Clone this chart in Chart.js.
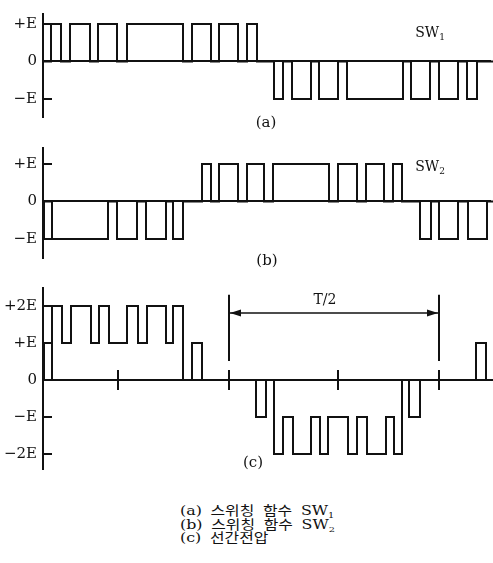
<!DOCTYPE html>
<html>
<head>
<meta charset="utf-8">
<script src="https://cdn.jsdelivr.net/npm/chart.js@4"></script>
<style>
  body { margin: 0; background: #fff; }
  #wrap { position: relative; width: 493px; height: 563px; overflow: hidden; background: #fff; }
  .panel { position: absolute; left: 0; }
  .lbl { position: absolute; font-family: "DejaVu Serif", serif; color: #111; white-space: nowrap;
         transform: translate(-50%, -50%); line-height: 1; }
  .lbl sub { font-size: 9px; vertical-align: -3px; }
  .cap { position: absolute; left: 180px; font-family: "DejaVu Serif", "Noto Sans CJK KR", serif;
         font-size: 13px; line-height: 13px; color: #111; word-spacing: 3px; white-space: nowrap;
         transform: scaleX(1.22); transform-origin: left center; }
  .cap sub { font-size: 8px; vertical-align: -3px; }
</style>
</head>
<body>
<div id="wrap">
  <div class="panel" style="top:13px"><canvas id="chartA" width="493" height="105"></canvas></div>
  <div class="panel" style="top:147px"><canvas id="chartB" width="493" height="112"></canvas></div>
  <div class="panel" style="top:287px"><canvas id="chartC" width="493" height="183"></canvas></div>

  <div class="lbl" style="left:430px;top:33px;font-size:14px">SW<sub>1</sub></div>
  <div class="lbl" style="left:266px;top:122px;font-size:15px">(a)</div>
  <div class="lbl" style="left:430px;top:167px;font-size:14px">SW<sub>2</sub></div>
  <div class="lbl" style="left:267px;top:260px;font-size:15px">(b)</div>
  <div class="lbl" style="left:325px;top:299px;font-size:14px">T/2</div>
  <div class="lbl" style="left:253px;top:462px;font-size:15px">(c)</div>

  <div class="cap" style="top:504px">(a) 스위칭 함수 SW<sub>1</sub></div>
  <div class="cap" style="top:518px">(b) 스위칭 함수 SW<sub>2</sub></div>
  <div class="cap" style="top:531px">(c) 선간전압</div>
</div>
<script>
// time axis (arbitrary units, 0 at the vertical axis)
const tMax = 448;

// (a) switching function SW1: level holds from each edge until the next one
const sw1Edges  = [0, 8, 18, 27, 47, 55, 74, 84, 140, 149, 168, 176, 195, 204, 214,
                   231, 240, 249, 268, 276, 295, 304, 360, 368, 387, 396, 415, 424, 434, 450];
const sw1Levels = [0, 1, 0, 1, 0, 1, 0, 1, 0, 1, 0, 1, 0, 1, 0,
                   -1, 0, -1, 0, -1, 0, -1, 0, -1, 0, -1, 0, -1, 0, 0];

// (b) switching function SW2
const sw2Edges  = [0, 1, 9, 65, 74, 94, 103, 123, 130, 140, 159, 168, 176, 195, 204, 221,
                   230, 286, 295, 314, 323, 341, 350, 359, 377, 388, 396, 415, 425, 444, 450];
const sw2Levels = [-1, 0, -1, 0, -1, 0, -1, 0, -1, 0, 1, 0, 1, 0, 1, 0,
                   1, 0, 1, 0, 1, 0, 1, 0, -1, 0, -1, 0, -1, 0, 0];

// (c) line-to-line voltage
const lineEdges  = [0, 1, 9, 19, 28, 48, 56, 66, 84, 95, 104, 123, 130, 140, 149, 159,
                    213, 223, 231, 240, 250, 268, 277, 285, 305, 314, 324, 343, 351, 359,
                    366, 377, 433, 443, 450];
const lineLevels = [1, 0, 2, 1, 2, 1, 2, 1, 2, 1, 2, 1, 2, 0, 1, 0,
                    -1, 0, -2, -1, -2, -1, -2, -1, -2, -1, -2, -1, -2, 0,
                    -1, 0, 1, 0, 0];

// y tick values and their labels
const swTicks = [-1, 0, 1];
const swTickLabels = ['−E', '0', '+E'];
const lineTicks = [-2, -1, 0, 1, 2];
const lineTickLabels = ['−2E', '−E', '0', '+E', '+2E'];

// marks on the zero line of (c) and the half period span
const zeroTicks = [75, 186, 295, 396];
const halfPeriod = [186, 396];

const ink = '#111';

const axisMarks = {
  id: 'axisMarks',
  afterDatasetsDraw(chart, args, opts) {
    const { ctx, chartArea } = chart;
    const xs = chart.scales.x, ys = chart.scales.y;
    ctx.save();
    ctx.strokeStyle = ink;
    ctx.fillStyle = ink;
    ctx.lineWidth = 2;
    (opts.levels || []).forEach(v => {
      if (v === 0) return;
      const py = Math.round(ys.getPixelForValue(v));
      ctx.beginPath();
      ctx.moveTo(chartArea.left, py);
      ctx.lineTo(chartArea.left + 9, py);
      ctx.stroke();
    });
    const y0 = ys.getPixelForValue(0);
    (opts.zeroTicks || []).forEach(v => {
      const px = Math.round(xs.getPixelForValue(v));
      ctx.beginPath();
      ctx.moveTo(px, y0 - 10);
      ctx.lineTo(px, y0 + 10);
      ctx.stroke();
    });
    if (opts.span) {
      const a = Math.round(xs.getPixelForValue(opts.span[0]));
      const b = Math.round(xs.getPixelForValue(opts.span[1]));
      const top = ys.getPixelForValue(opts.spanTop);
      const bot = ys.getPixelForValue(opts.spanBottom);
      const ay = Math.round(ys.getPixelForValue(opts.arrowY));
      ctx.beginPath();
      ctx.moveTo(a, top); ctx.lineTo(a, bot);
      ctx.moveTo(b, top); ctx.lineTo(b, bot);
      ctx.stroke();
      ctx.lineWidth = 1.5;
      ctx.beginPath();
      ctx.moveTo(a, ay); ctx.lineTo(b, ay);
      ctx.stroke();
      // arrow heads
      ctx.beginPath();
      ctx.moveTo(a + 1, ay); ctx.lineTo(a + 12, ay - 3.5); ctx.lineTo(a + 12, ay + 3.5); ctx.closePath();
      ctx.moveTo(b - 1, ay); ctx.lineTo(b - 12, ay - 3.5); ctx.lineTo(b - 12, ay + 3.5); ctx.closePath();
      ctx.fill();
    }
    ctx.restore();
  }
};

function steps(edges, levels) {
  return edges.map((t, i) => ({ x: t, y: levels[i] }));
}

function makeChart(id, edges, levels, yMin, yMax, ticks, labels, marks) {
  return new Chart(document.getElementById(id), {
    type: 'line',
    data: {
      datasets: [{
        data: steps(edges, levels),
        stepped: 'before',
        borderColor: ink,
        borderWidth: 2,
        pointRadius: 0,
        fill: false,
        clip: false
      }]
    },
    options: {
      responsive: false,
      animation: false,
      layout: { padding: { left: 0, right: 2, top: 0, bottom: 0 } },
      plugins: {
        legend: { display: false },
        tooltip: { enabled: false },
        axisMarks: marks
      },
      scales: {
        x: { type: 'linear', min: 0, max: tMax, display: false },
        y: {
          type: 'linear',
          min: yMin,
          max: yMax,
          afterBuildTicks: s => { s.ticks = ticks.map(v => ({ value: v })); },
          afterFit: s => { s.width = 43; s.paddingTop = 0; s.paddingBottom = 0; },
          border: { display: true, color: ink, width: 2 },
          grid: {
            drawTicks: false,
            lineWidth: 2,
            color: c => (c.tick && c.tick.value === 0 ? ink : 'rgba(0,0,0,0)')
          },
          ticks: {
            autoSkip: false,
            padding: 6,
            color: ink,
            font: { family: 'DejaVu Serif', size: 15 },
            callback: v => labels[ticks.indexOf(v)]
          }
        }
      }
    },
    plugins: [axisMarks]
  });
}

makeChart('chartA', sw1Edges, sw1Levels, -1.51, 1.29, swTicks, swTickLabels, { levels: swTicks });
makeChart('chartB', sw2Edges, sw2Levels, -1.53, 1.45, swTicks, swTickLabels, { levels: swTicks });
makeChart('chartC', lineEdges, lineLevels, -2.43, 2.51, lineTicks, lineTickLabels, {
  levels: lineTicks,
  zeroTicks: zeroTicks,
  span: halfPeriod,
  spanTop: 2.30,
  spanBottom: 0.51,
  arrowY: 1.81
});
</script>
</body>
</html>
